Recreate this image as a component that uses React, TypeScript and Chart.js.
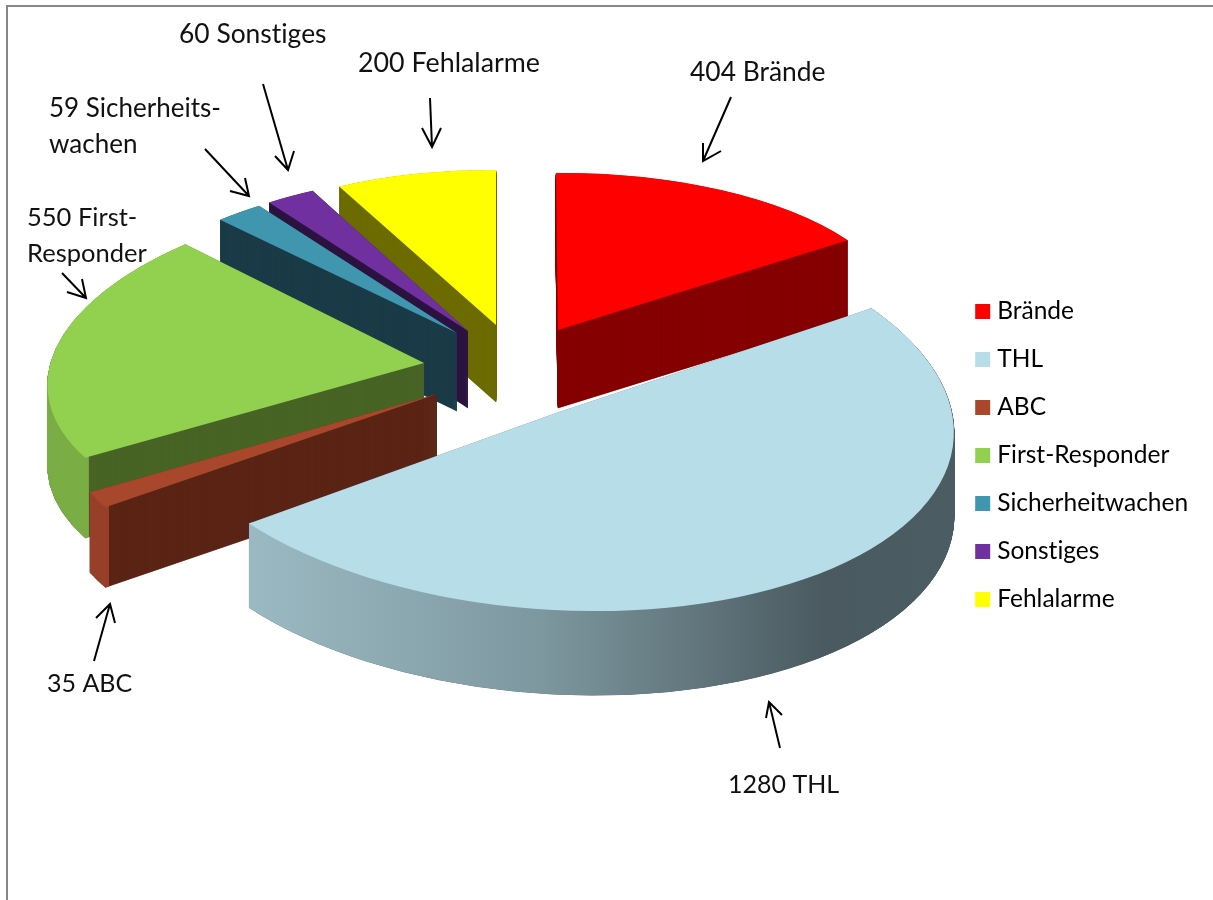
import React, { useEffect, useRef } from "react";
import { Chart, registerables } from "chart.js";

Chart.register(...registerables);

const categories = ["Brände", "THL", "ABC", "First-Responder", "Sicherheitwachen", "Sonstiges", "Fehlalarme"];
const values = [404, 1280, 35, 550, 59, 60, 200];
const topColors = ["#ff0000", "#b7dde8", "#a9472c", "#92d050", "#3f96ae", "#7030a0", "#ffff00"];
const faceColors = ["#850000", "#4b5c63", "#5b2416", "#486426", "#1b3c48", "#2d1340", "#6b6b00"];
const rimColors = [null, "gradient", "#98412a", "#7bad46", null, null, null];

// Back-to-front painting order of the exploded slices.
const paintOrder = [6, 5, 4, 3, 2, 0, 1];

// 3D projection of every slice: apex, linear map of the unit circle, extrusion depth.
const slicePose = [
  { ax: 558, ay: 330, a: 350, b: 2, c: -3, d: 157, depth: 78 },
  { ax: 556, ay: 413, a: 397, b: 26, c: 6.5, d: 198, depth: 84 },
  { ax: 437, ay: 394, a: 384, b: -34, c: 8, d: 205, depth: 80 },
  { ax: 424, ay: 363, a: 375, b: -33, c: -7, d: 173, depth: 80 },
  { ax: 457, ay: 333, a: 349, b: -10, c: 3.4, d: 155, depth: 78 },
  { ax: 468, ay: 331, a: 348, b: -8, c: 3, d: 157, depth: 77 },
  { ax: 496, ay: 325, a: 336, b: 0, c: 2.8, d: 155, depth: 77 },
];

const calloutLines = [
  ["60 Sonstiges"],
  ["59 Sicherheits-", "wachen"],
  ["550 First-", "Responder"],
  ["200 Fehlalarme"],
  ["404 Brände"],
  ["35 ABC"],
  ["1280 THL"],
];
const calloutSize = [26.4, 26, 25.5, 26.8, 26.4, 25, 25];
const calloutAnchor = [
  [179, 43],
  [49, 117],
  [27, 226],
  [358, 72],
  [690, 81],
  [47, 692],
  [728, 793],
];
// tail, tip, head-left, head-right
const calloutArrow = [
  [263, 84, 288, 170, 275, 156, 294, 151],
  [205, 149, 249, 196, 230, 191, 245, 178],
  [62, 273, 86, 298, 67, 292, 82, 279],
  [430, 98, 432, 147, 422, 128, 441, 128],
  [731, 97, 703, 161, 703, 143, 721, 151],
  [94, 661, 110, 604, 96, 618, 115, 623],
  [780, 748, 769, 702, 766, 718, 782, 715],
];

const FONT = "Lato";
const LEGEND_SIZE = 24.5;
const LINE_H = 36;
const LAYER_STEP = 0.5;

const pie3d = {
  id: "pie3d",
  beforeDraw(chart: any) {
    chart.ctx.letterSpacing = "0.01px";
  },
  beforeDatasetsDraw(chart: any) {
    const ctx: CanvasRenderingContext2D = chart.ctx;
    const arcs = chart.getDatasetMeta(0).data;

    const paint = (arc: any, pose: any, shift: number, color: any, inner: number, seal: number) => {
      const R = arc.outerRadius;
      const keepOpts = arc.options;
      const keepInner = arc.innerRadius;
      const o = Object.create(keepOpts);
      o.backgroundColor = color;
      o.borderColor = color;
      o.borderWidth = seal;
      arc.options = o;
      arc.innerRadius = inner;
      ctx.save();
      ctx.transform(pose.a / R, pose.c / R, pose.b / R, pose.d / R, pose.ax, pose.ay + shift);
      ctx.translate(-arc.x, -arc.y);
      arc.draw(ctx);
      ctx.restore();
      arc.options = keepOpts;
      arc.innerRadius = keepInner;
    };

    for (const i of paintOrder) {
      const arc = arcs[i];
      const pose = slicePose[i];
      const R = arc.outerRadius;
      for (let s = pose.depth; s > 0; s -= LAYER_STEP) paint(arc, pose, s, faceColors[i], 0, 1);
      let rim: any = rimColors[i];
      if (rim === "gradient") {
        const g = ctx.createLinearGradient(arc.x - R, 0, arc.x + R, 0);
        g.addColorStop(0, "#9fbfc8");
        g.addColorStop(0.11, "#9ab8c1");
        g.addColorStop(0.45, "#7d979f");
        g.addColorStop(0.81, "#4a5a60");
        g.addColorStop(1, "#4b5c63");
        rim = g;
      }
      if (rim) for (let s = pose.depth; s > 0; s -= LAYER_STEP) paint(arc, pose, s, rim, R * 0.99, 1);
      paint(arc, pose, 0, topColors[i], 0, 0);
    }

    ctx.save();
    ctx.fillStyle = "#111111";
    ctx.strokeStyle = "#000000";
    ctx.lineWidth = 2;
    ctx.textBaseline = "alphabetic";
    ctx.textAlign = "left";
    calloutLines.forEach((lines, i) => {
      ctx.font = `${calloutSize[i]}px ${FONT}`;
      lines.forEach((t, j) => ctx.fillText(t, calloutAnchor[i][0], calloutAnchor[i][1] + j * LINE_H));
      const p = calloutArrow[i];
      ctx.beginPath();
      ctx.moveTo(p[0], p[1]);
      ctx.lineTo(p[2], p[3]);
      ctx.moveTo(p[4], p[5]);
      ctx.lineTo(p[2], p[3]);
      ctx.lineTo(p[6], p[7]);
      ctx.stroke();
    });
    ctx.restore();
    return false;
  },
};

export default function App() {
  const ref = useRef<HTMLCanvasElement>(null);
  useEffect(() => {
    const chart = new Chart(ref.current!, {
      type: "pie",
      data: {
        labels: categories,
        datasets: [{ data: values, backgroundColor: topColors, borderWidth: 0 }],
      },
      options: {
        animation: false,
        responsive: false,
        devicePixelRatio: 1,
        events: [],
        layout: { padding: { right: 15, top: 11, bottom: 0 } },
        plugins: {
          tooltip: { enabled: false },
          legend: {
            position: "right",
            labels: {
              font: { family: FONT, size: LEGEND_SIZE },
              color: "#111111",
              boxWidth: 4.5,
              boxHeight: 4.5,
              padding: 48 - LEGEND_SIZE,
              generateLabels(chart: any) {
                return categories.map((text, i) => ({
                  text,
                  fillStyle: topColors[i],
                  strokeStyle: topColors[i],
                  lineWidth: 10.5,
                  hidden: false,
                  index: i,
                }));
              },
            },
          },
        },
      },
      plugins: [pie3d],
    } as any);
    return () => chart.destroy();
  }, []);
  return (
    <div style={{ position: "absolute", left: 0, top: 0, width: 1213, height: 900, overflow: "hidden", background: "#fff" }}>
      <canvas ref={ref} width={1213} height={900} style={{ display: "block", width: 1213, height: 900 }} />
      <div
        style={{
          position: "absolute",
          left: 6,
          top: 5,
          right: 0,
          bottom: 0,
          borderLeft: "2px solid #868686",
          borderTop: "2px solid #868686",
          pointerEvents: "none",
        }}
      />
    </div>
  );
}
